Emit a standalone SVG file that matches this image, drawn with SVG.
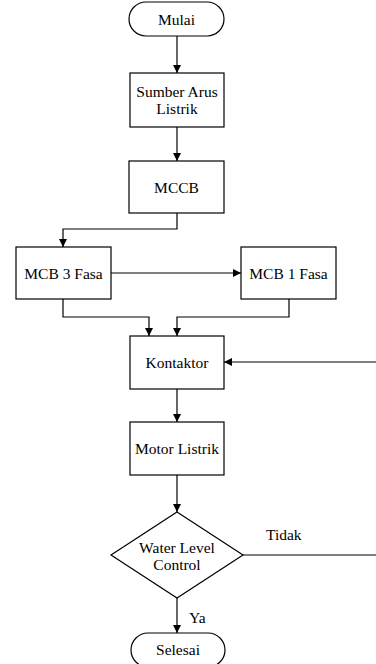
<svg xmlns="http://www.w3.org/2000/svg" width="376" height="664" viewBox="0 0 376 664">
<style>
.n{fill:#fff;stroke:#000;stroke-width:1.2}
.t{font-family:"Liberation Serif","Times New Roman",serif;font-size:15.5px;fill:#000;text-anchor:middle;dominant-baseline:central}
.l{font-family:"Liberation Serif","Times New Roman",serif;font-size:15.5px;fill:#000;dominant-baseline:central}
.c{fill:none;stroke:#000;stroke-width:1.2}
</style>
<defs>
<marker id="a" viewBox="0 0 10 10" refX="10" refY="5" markerWidth="8" markerHeight="8" markerUnits="userSpaceOnUse" orient="auto">
<path d="M0,0L10,5L0,10z" fill="#000"/>
</marker>
</defs>
<rect width="376" height="664" fill="#fff"/>
<g id="connectors">
<path class="c" d="M177,36V73" marker-end="url(#a)"/>
<path class="c" d="M177,127V161" marker-end="url(#a)"/>
<path class="c" d="M177,213V229H63V247" marker-end="url(#a)"/>
<path class="c" d="M111,273H241" marker-end="url(#a)"/>
<path class="c" d="M63,299V317H149V336" marker-end="url(#a)"/>
<path class="c" d="M289,299V317H177V336" marker-end="url(#a)"/>
<path class="c" d="M377,362H224" marker-end="url(#a)"/>
<path class="c" d="M177,389V422" marker-end="url(#a)"/>
<path class="c" d="M177,475V512" marker-end="url(#a)"/>
<path class="c" d="M243,555H377"/>
<path class="c" d="M177,598V633" marker-end="url(#a)"/>
<text class="l" x="266" y="534">Tidak</text>
<text class="l" x="189" y="617">Ya</text>
</g>
<g id="mulai">
<rect class="n" x="129" y="2" width="95" height="34" rx="17"/>
<text class="t" x="176.5" y="19">Mulai</text>
</g>
<g id="sumber">
<rect class="n" x="130" y="73" width="94" height="54"/>
<text class="t" x="177" y="91">Sumber Arus</text>
<text class="t" x="177" y="108">Listrik</text>
</g>
<g id="mccb">
<rect class="n" x="129" y="161" width="95" height="52"/>
<text class="t" x="176.5" y="187">MCCB</text>
</g>
<g id="mcb3">
<rect class="n" x="16" y="247" width="95" height="52"/>
<text class="t" x="63.5" y="273">MCB 3 Fasa</text>
</g>
<g id="mcb1">
<rect class="n" x="241" y="247" width="95" height="52"/>
<text class="t" x="288.5" y="273">MCB 1 Fasa</text>
</g>
<g id="kontaktor">
<rect class="n" x="130" y="336" width="94" height="53"/>
<text class="t" x="177" y="362">Kontaktor</text>
</g>
<g id="motor">
<rect class="n" x="130" y="422" width="94" height="53"/>
<text class="t" x="177" y="448">Motor Listrik</text>
</g>
<g id="wlc">
<path class="n" d="M177,512L243,555L177,598L111,555Z"/>
<text class="t" x="177" y="547">Water Level</text>
<text class="t" x="177" y="564">Control</text>
</g>
<g id="selesai">
<rect class="n" x="131" y="633" width="94" height="34" rx="17"/>
<text class="t" x="178" y="649">Selesai</text>
</g>
</svg>
